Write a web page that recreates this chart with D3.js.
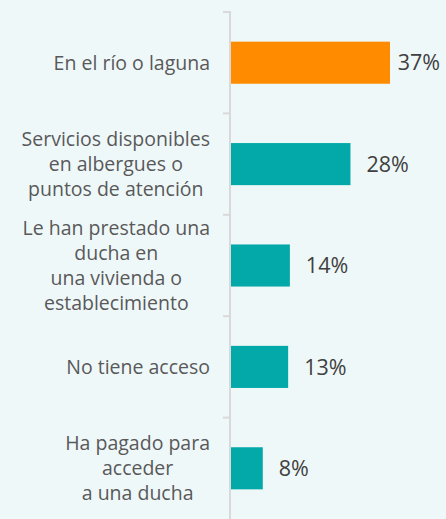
<!DOCTYPE html>
<html>
<head>
<meta charset="utf-8">
<script src="https://cdn.jsdelivr.net/npm/d3@7"></script>
<style>
  html, body { margin: 0; padding: 0; background: #eff8f9; }
  svg { display: block; font-family: 'Open Sans', sans-serif; }
</style>
</head>
<body>
<div id="chart"></div>
<script>
// Categories, one entry per line of the wrapped label
const categories = [
    ['En el río o laguna'],
    ['Servicios disponibles', 'en albergues o', 'puntos de atención'],
    ['Le han prestado una', 'ducha en', 'una vivienda o', 'establecimiento'],
    ['No tiene acceso'],
    ['Ha pagado para', 'acceder', 'a una ducha']
];
const values = [37.0, 27.8, 13.7, 13.3, 7.4];
const valueLabels = ['37%', '28%', '14%', '13%', '8%'];
const highlight = [true, false, false, false, false];

const width = 446;
const height = 519;
const axisX = 230;

const svg = d3.select('#chart')
    .append('svg')
    .attr('width', width)
    .attr('height', height);

svg.append('rect')
    .attr('width', width)
    .attr('height', height)
    .attr('fill', '#eff8f9');

const keys = categories.map((d, i) => i);

const y = d3.scaleBand()
    .domain(keys)
    .range([12, 519])
    .paddingInner(0.585)
    .paddingOuter(0.2925);

const x = d3.scaleLinear()
    .domain([0, 37])
    .range([axisX + 1, 390]);

// Category boundaries for the ticks
const gap = y.step() - y.bandwidth();
const boundaries = keys.map(k => y(k) - gap / 2);

// Axis line and ticks
svg.append('line')
    .attr('x1', axisX).attr('x2', axisX)
    .attr('y1', 11).attr('y2', height)
    .attr('stroke', '#d9d9d9')
    .attr('stroke-width', 2);

svg.selectAll('.tick')
    .data(boundaries)
    .join('line')
    .attr('class', 'tick')
    .attr('x1', axisX - 7).attr('x2', axisX)
    .attr('y1', d => d).attr('y2', d => d)
    .attr('stroke', '#d9d9d9')
    .attr('stroke-width', 2);

// Bars
svg.selectAll('.bar')
    .data(values)
    .join('rect')
    .attr('class', 'bar')
    .attr('x', x(0))
    .attr('y', (d, i) => y(i))
    .attr('width', d => x(d) - x(0))
    .attr('height', y.bandwidth())
    .attr('fill', (d, i) => highlight[i] ? '#ff8c00' : '#03a9a9');

// Value labels
const vl = svg.selectAll('.value')
    .data(values)
    .join('text')
    .attr('class', 'value')
    .attr('y', (d, i) => y(i) + y.bandwidth() / 2)
    .attr('dy', '0.36em')
    .attr('fill', '#404040')
    .style('font-size', '21.5px')
    .text((d, i) => valueLabels[i]);

vl.each(function(d) {
    const w = this.getComputedTextLength();
    d3.select(this).attr('x', Math.min(x(d) + 16, width - 6 - w));
});

// Category labels, centered lines, block right-aligned to the axis
const lineHeight = 25;
const labels = svg.selectAll('.label')
    .data(categories)
    .join('text')
    .attr('class', 'label')
    .attr('fill', '#595959')
    .style('font-size', '19.5px')
    .attr('text-anchor', 'middle');

labels.each(function(lines, i) {
    const t = d3.select(this);
    const cy = y(i) + y.bandwidth() / 2;
    const top = cy - (lines.length - 1) * lineHeight / 2;
    lines.forEach((line, j) => {
        t.append('tspan')
            .attr('y', top + j * lineHeight)
            .attr('dy', '0.36em')
            .text(line);
    });
    let maxW = 0;
    t.selectAll('tspan').each(function() {
        maxW = Math.max(maxW, this.getComputedTextLength());
    });
    t.selectAll('tspan').attr('x', 210 - maxW / 2);
});
</script>
</body>
</html>
